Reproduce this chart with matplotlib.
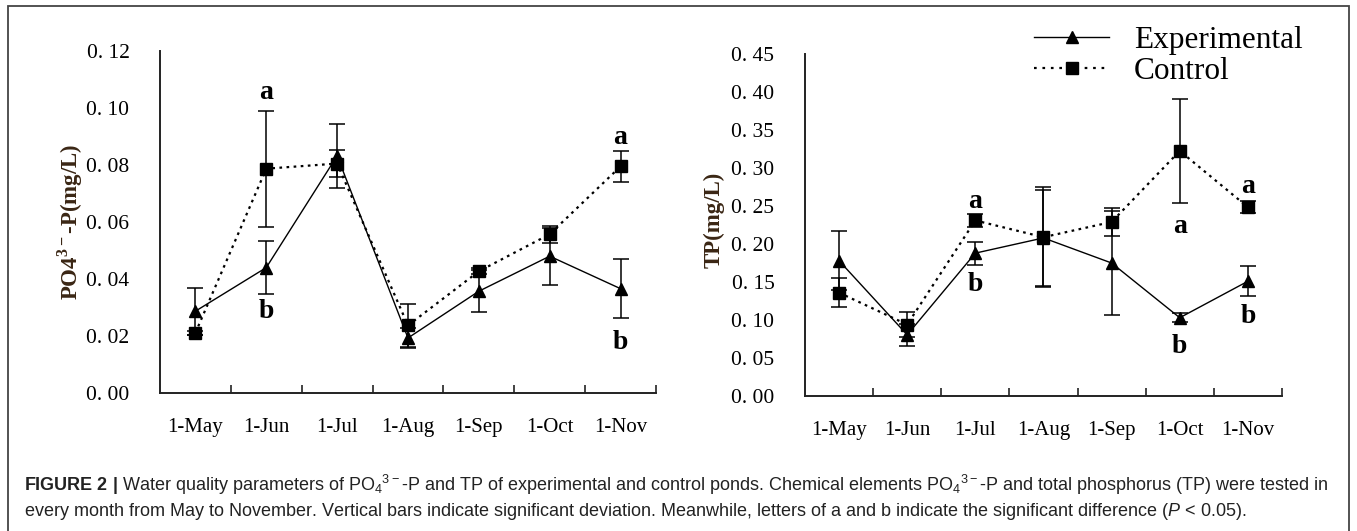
import matplotlib
matplotlib.use("Agg")
import matplotlib.pyplot as plt
from matplotlib.patches import Rectangle
from matplotlib.lines import Line2D

plt.rcParams["mathtext.fontset"] = "custom"
plt.rcParams["mathtext.rm"] = "Liberation Sans"
plt.rcParams["mathtext.it"] = "Liberation Sans:italic"
plt.rcParams["mathtext.bf"] = "Liberation Sans:bold"

months = ["1-May", "1-Jun", "1-Jul", "1-Aug", "1-Sep", "1-Oct", "1-Nov"]

# PO4(3-)-P, mg/L
po4_exp = [0.0287, 0.0440, 0.0832, 0.0193, 0.0357, 0.0480, 0.0366]
po4_exp_err = [0.0082, 0.0092, 0.0113, 0.0036, 0.0074, 0.0100, 0.0104]
po4_ctl = [0.0211, 0.0787, 0.0805, 0.0237, 0.0427, 0.0557, 0.0795]
po4_ctl_err = [0.0008, 0.0203, 0.0048, 0.0075, 0.0010, 0.0030, 0.0054]
po4_letters = [(1, 0.1054, "a"), (1, 0.0287, "b"), (6, 0.0896, "a"), (6, 0.0176, "b")]

# TP, mg/L
tp_exp = [0.178, 0.0805, 0.188, 0.208, 0.175, 0.103, 0.151]
tp_exp_err = [0.039, 0.0145, 0.015, 0.063, 0.068, 0.006, 0.020]
tp_ctl = [0.136, 0.094, 0.231, 0.209, 0.229, 0.3225, 0.2485]
tp_ctl_err = [0.019, 0.017, 0.009, 0.066, 0.018, 0.0685, 0.008]
tp_letters = [(2, 0.256, "a"), (2, 0.1465, "b"), (5, 0.2235, "a"), (5, 0.065, "b"),
              (6, 0.276, "a"), (6, 0.1047, "b")]

serif = "Liberation Serif"
axis_color = "#222222"


def draw_panel(ax, exp, exp_err, ctl, ctl_err, letters, ymax, ystep, ylabel):
    x = list(range(len(months)))
    ax.errorbar(x, ctl, yerr=ctl_err, color="black", ls=(0, (1.2, 2.0)), lw=1.6,
                marker="s", ms=8, capsize=5.5, elinewidth=1.1, capthick=1.1, zorder=3)
    ax.errorbar(x, exp, yerr=exp_err, color="black", ls="-", lw=1.0,
                marker="^", ms=9, capsize=5.5, elinewidth=1.1, capthick=1.1, zorder=4)
    for xi, yi, s in letters:
        ax.text(xi, yi, s, ha="center", va="center", fontsize=20,
                fontweight="bold", family=serif)

    ax.set_xlim(-0.5, len(months) - 0.5)
    ax.set_ylim(0, ymax)
    ax.set_xticks(x)
    ax.set_xticklabels(months, family=serif, fontsize=15)
    ax.set_xticks([i + 0.5 for i in x], minor=True)
    n = int(round(ymax / ystep))
    yt = [i * ystep for i in range(n + 1)]
    ax.set_yticks(yt)
    ax.set_yticklabels([f"{v:.2f}".replace(".", ". ") for v in yt], family=serif, fontsize=15.5)
    ax.set_yticks([ymax], minor=True)
    ax.tick_params(axis="x", which="major", length=0, pad=18, colors="black")
    ax.tick_params(axis="x", which="minor", direction="in", length=6, width=1.2, color=axis_color)
    ax.tick_params(axis="y", which="major", length=0, pad=22, colors="black")
    ax.tick_params(axis="y", which="minor", direction="in", length=6, width=1.2, color=axis_color)
    for side in ("top", "right"):
        ax.spines[side].set_visible(False)
    for side in ("left", "bottom"):
        ax.spines[side].set_color(axis_color)
        ax.spines[side].set_linewidth(1.4)
    ax.set_ylabel(ylabel, family=serif, fontweight="bold", fontsize=16.5, color="#3a2614")


fig = plt.figure(figsize=(13.57, 5.31), dpi=100)
ax1 = fig.add_axes([0.1179, 0.2599, 0.3655, 0.6441])
ax2 = fig.add_axes([0.5932, 0.2542, 0.3515, 0.6441])

draw_panel(ax1, po4_exp, po4_exp_err, po4_ctl, po4_ctl_err, po4_letters, 0.12, 0.02,
           r"PO4$^{\mathregular{3-}}$-P(mg/L)")
draw_panel(ax2, tp_exp, tp_exp_err, tp_ctl, tp_ctl_err, tp_letters, 0.45, 0.05,
           "TP(mg/L)")
ax1.yaxis.set_label_coords(-0.152, 0.5)
ax2.yaxis.set_label_coords(-0.168, 0.515)

handles = [
    Line2D([], [], color="black", ls="-", lw=1.0, marker="^", ms=9),
    Line2D([], [], color="black", ls=(0, (1.2, 2.6)), lw=1.6, marker="s", ms=8),
]
fig.legend(handles, ["Experimental", "Control"], loc="center left",
           bbox_to_anchor=(1034 / 1357, 0.895), frameon=False,
           prop={"family": serif, "size": 22.5}, handlelength=2.4,
           handletextpad=0.8, labelspacing=0.05, borderpad=0, borderaxespad=0)

# outer frame
fig.patches.append(Rectangle((8 / 1357, -0.05), 1341 / 1357, 1.05 - 6 / 531,
                             transform=fig.transFigure, fill=False,
                             edgecolor="#444444", lw=1.3))

cap1 = (r"$\mathbf{FIGURE\ 2\ |}$ Water quality parameters of PO$\mathregular{_4}$$\mathregular{^{3-}}$-P and TP of "
        r"experimental and control ponds. Chemical elements PO$\mathregular{_4}$$\mathregular{^{3-}}$-P and total "
        r"phosphorus (TP) were tested in")
cap2 = (r"every month from May to November. Vertical bars indicate significant deviation. "
        r"Meanwhile, letters of a and b indicate the significant difference ($\mathit{P}$ < 0.05).")
fig.text(24 / 1357, 1 - 485 / 531, cap1, family="Liberation Sans", fontsize=13.0,
         va="center", ha="left", color="#222222")
fig.text(24 / 1357, 1 - 511 / 531, cap2, family="Liberation Sans", fontsize=13.0,
         va="center", ha="left", color="#222222")

fig.savefig("out.png", dpi=100)
